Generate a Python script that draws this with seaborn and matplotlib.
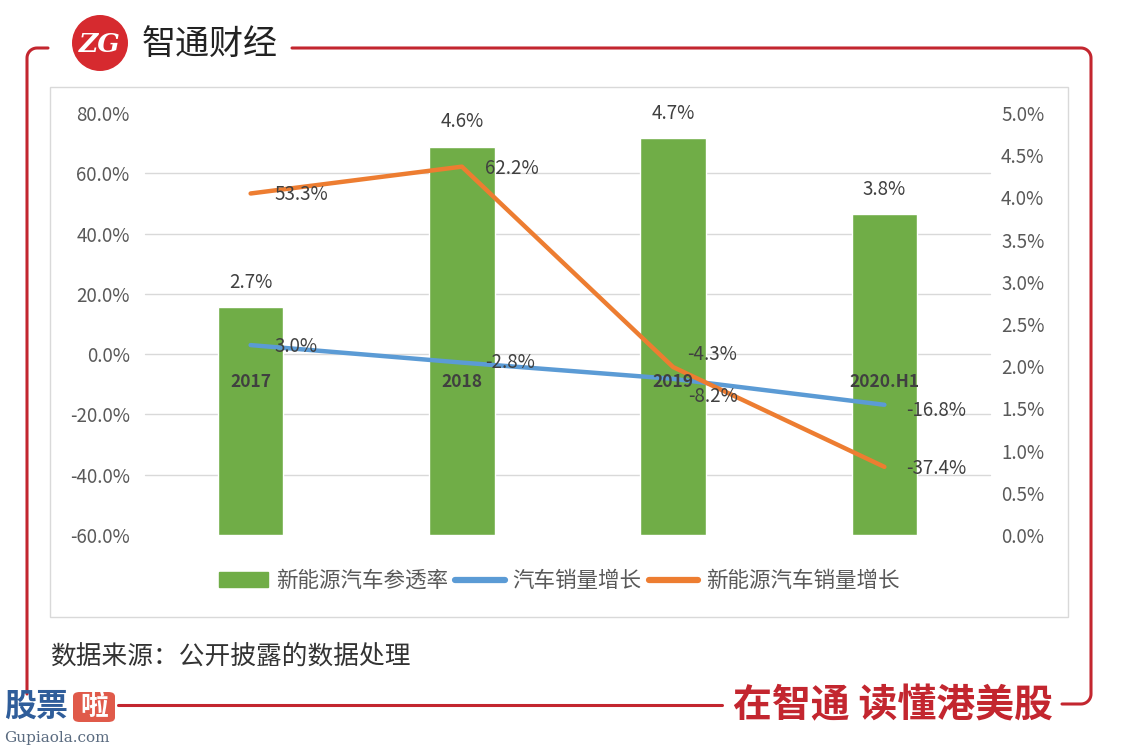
import numpy as np
import pandas as pd
import seaborn as sns
import matplotlib.pyplot as plt
import matplotlib.ticker as mtick
from matplotlib.lines import Line2D
from matplotlib.patches import Circle, Rectangle, FancyBboxPatch

# data
categories = ['2017', '2018', '2019', '2020.H1']
penetration = [2.7, 4.6, 4.7, 3.8]           # 新能源汽车参透率 (right axis)
car_growth = [3.0, -2.8, -8.2, -16.8]        # 汽车销量增长 (left axis)
nev_growth = [53.3, 62.2, -4.3, -37.4]       # 新能源汽车销量增长 (left axis)
left_ticks = [-60, -40, -20, 0, 20, 40, 60, 80]
right_ticks = [0, 0.5, 1, 1.5, 2, 2.5, 3, 3.5, 4, 4.5, 5]

GREEN = '#70ad47'
BLUE = '#5b9bd5'
ORANGE = '#ed7d31'
RED = '#c3262f'
TXT = '#404040'

sns.set_style('white')
plt.rcParams['font.family'] = ['Noto Sans CJK SC', 'DejaVu Sans']

W, H = 1123, 748
fig = plt.figure(figsize=(W / 100, H / 100), dpi=100)

def fx(x):
    return x / W

def fy(y):
    return 1 - y / H

ax_bar = fig.add_axes([fx(145), fy(535), fx(990) - fx(145), fy(113) - fy(535)])
df = pd.DataFrame({'cat': categories, 'pen': penetration,
                   'car': car_growth, 'nev': nev_growth})

sns.barplot(data=df, x='cat', y='pen', color=GREEN, saturation=1, width=0.31, ax=ax_bar)
ax_line = ax_bar.twinx()

ax_bar.set_ylim(0, 5)
ax_bar.set_xlim(-0.5, 3.5)
ax_bar.yaxis.tick_right()
ax_bar.set_yticks(right_ticks)
ax_bar.yaxis.set_major_formatter(mtick.FuncFormatter(lambda v, p: f'{v:.1f}%'))
# grid lines follow the left axis ticks
ax_bar.set_yticks([(t + 60) / 140 * 5 for t in left_ticks], minor=True)
ax_bar.grid(which='minor', axis='y', color='#d9d9d9', linewidth=1)
ax_bar.grid(which='major', visible=False)
for t in ax_bar.yaxis.get_minor_ticks():
    t.gridline.set_clip_on(False)
ax_bar.tick_params(axis='y', which='both', length=0, labelsize=13.5, labelcolor='#595959', pad=8)
ax_bar.set_xticks([])
ax_bar.set_xlabel('')
ax_bar.set_ylabel('')
ax_bar.set_axisbelow(True)
for s in ax_bar.spines.values():
    s.set_visible(False)

for i, v in enumerate(penetration):
    ax_bar.annotate(f'{v:.1f}%', xy=(i, v), xytext=(0, 18), textcoords='offset points',
                    ha='center', va='center', fontsize=13.5, color=TXT)

ax_line.patch.set_visible(False)
x = np.arange(len(categories))
sns.lineplot(x=x, y=car_growth, color=BLUE, linewidth=3.2, ax=ax_line)
sns.lineplot(x=x, y=nev_growth, color=ORANGE, linewidth=3.2, ax=ax_line)
ax_line.set_ylim(-60, 80)
ax_line.set_xlim(-0.5, 3.5)
ax_line.yaxis.tick_left()
ax_line.set_yticks(left_ticks)
ax_line.yaxis.set_major_formatter(mtick.FuncFormatter(lambda v, p: f'{v:.1f}%'))
ax_line.tick_params(axis='y', length=0, labelsize=13.5, labelcolor='#595959', pad=11)
ax_line.set_xticks([])
for s in ax_line.spines.values():
    s.set_visible(False)

# category labels sit below the 0% line
for i, c in enumerate(categories):
    ax_line.annotate(c, xy=(i, 0), xytext=(0, -20), textcoords='offset points',
                     ha='center', va='center', fontsize=12.5, fontweight='bold', color=TXT)

car_off = [(17, -1), (17, 0), (11, -13), (16, -4)]
nev_off = [(17, -1), (17, -1), (10, 9), (16, -1)]
for i, v in enumerate(car_growth):
    ax_line.annotate(f'{v:.1f}%', xy=(i, v), xytext=car_off[i], textcoords='offset points',
                     ha='left', va='center', fontsize=13.5, color=TXT)
for i, v in enumerate(nev_growth):
    ax_line.annotate(f'{v:.1f}%', xy=(i, v), xytext=nev_off[i], textcoords='offset points',
                     ha='left', va='center', fontsize=13.5, color=TXT)

handles = [Rectangle((0, 0), 1, 1, color=GREEN),
           Line2D([0], [0], color=BLUE, linewidth=4.5, solid_capstyle='round'),
           Line2D([0], [0], color=ORANGE, linewidth=4.5, solid_capstyle='round')]
labels = ['新能源汽车参透率', '汽车销量增长', '新能源汽车销量增长']
fig.legend(handles, labels, loc='center', bbox_to_anchor=(fx(559), fy(581)), ncol=3,
           frameon=False, fontsize=15.5, handlelength=2.3, handleheight=0.65,
           handletextpad=0.35, columnspacing=0.35, labelcolor='#595959')

# inner gray chart frame
fig.patches.append(Rectangle((fx(50), fy(617)), fx(1068) - fx(50), fy(87) - fy(617),
                             transform=fig.transFigure, fill=False,
                             edgecolor='#d9d9d9', linewidth=1))

# red outer frame with rounded corners
def corner(cx, cy, r, a0, a1, n=12):
    t = np.radians(np.linspace(a0, a1, n))
    return cx + r * np.cos(t), cy - r * np.sin(t)

r = 10
cx1, cy1 = corner(27 + r, 48 + r, r, 90, 180)
xs = np.concatenate([[48], cx1, [27]])
ys = np.concatenate([[48], cy1, [694]])
fig.add_artist(Line2D(fx(xs), fy(ys), color=RED, linewidth=2.2))
fig.add_artist(Line2D([fx(118), fx(722)], [fy(705), fy(705)], color=RED, linewidth=2.2))
cx2, cy2 = corner(1091 - r, 48 + r, r, 90, 0)
cx3, cy3 = corner(1091 - r, 704 - r, r, 0, -90)
xs = np.concatenate([[292], cx2, cx3, [1062]])
ys = np.concatenate([[48], cy2, cy3, [704]])
fig.add_artist(Line2D(fx(xs), fy(ys), color=RED, linewidth=2.2))

# header logo
fig.patches.append(Circle((1.00, (H - 43) / 100), 0.28, transform=fig.dpi_scale_trans,
                          facecolor='#d62a2f', edgecolor='none'))
fig.text(fx(100), fy(44), 'ZG', ha='center', va='center', fontsize=19,
         fontweight='bold', fontstyle='italic', color='white', family='DejaVu Serif')
fig.text(fx(142), fy(44), '智通财经', ha='left', va='center', fontsize=24.5,
         fontweight='light', color='#222222')

# footer
fig.text(fx(50), fy(657), '数据来源：公开披露的数据处理', ha='left', va='center',
         fontsize=18.5, color='#333333')
fig.text(fx(733), fy(706), '在智通 读懂港美股', ha='left', va='center',
         fontsize=28, fontweight='heavy', color=RED)

# watermark
fig.text(fx(4), fy(707), '股票', ha='left', va='center', fontsize=23,
         fontweight='heavy', color='#2f5d9a')
fig.patches.append(FancyBboxPatch((fx(73), fy(722)), fx(115) - fx(73), fy(692) - fy(722),
                                  boxstyle='round,pad=0,rounding_size=0.006',
                                  transform=fig.transFigure, facecolor='#e05a4a',
                                  edgecolor='none'))
fig.text(fx(94), fy(707), '啦', ha='center', va='center', fontsize=20,
         fontweight='heavy', color='white')
fig.text(fx(4), fy(738), 'Gupiaola.com', ha='left', va='center', fontsize=11,
         color='#5a6b80', family='DejaVu Serif')

fig.savefig('out.png', dpi=100)
